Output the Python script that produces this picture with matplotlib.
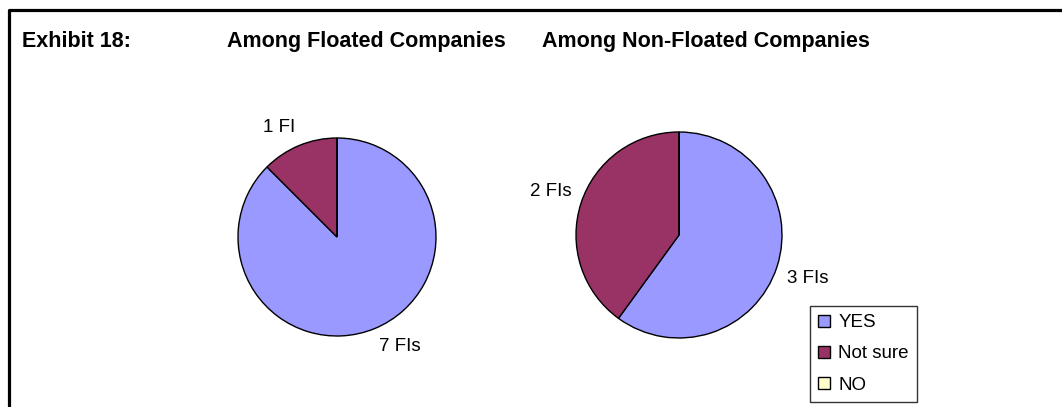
import numpy as np
import matplotlib
matplotlib.use("Agg")
import matplotlib.pyplot as plt
from matplotlib.lines import Line2D

plt.rcParams["font.family"] = ["Liberation Sans", "DejaVu Sans"]

# data
categories = ["YES", "Not sure", "NO"]
floated = [7, 1, 0]
non_floated = [3, 2, 0]
floated_labels = ["7 FIs", "1 FI", ""]
non_floated_labels = ["3 FIs", "2 FIs", ""]
titles = ["Among Floated Companies", "Among Non-Floated Companies"]

colors = ["#9999FF", "#993366", "#FFFFCC"]

W, H = 1062, 407
fig = plt.figure(figsize=(W / 100, H / 100), dpi=100)


def px_axes(cx, cy, r):
    # axes given by pie centre/radius in pixels (y from top)
    return fig.add_axes([(cx - r) / W, 1 - (cy + r) / H, 2 * r / W, 2 * r / H])


def draw_pie(ax, values, labels):
    wedges, _ = ax.pie(values, colors=colors, startangle=90, counterclock=False,
                       wedgeprops=dict(edgecolor="black", linewidth=1.0))
    ax.set_xlim(-1, 1)
    ax.set_ylim(-1, 1)
    for w, lab in zip(wedges, labels):
        if not lab:
            continue
        mid = np.deg2rad((w.theta1 + w.theta2) / 2)
        x, y = 1.1 * np.cos(mid), 1.1 * np.sin(mid)
        ax.text(x, y, lab, fontsize=13.5,
                ha="left" if x > 0 else "right",
                va="bottom" if y > 0 else "top")
    return wedges


ax1 = px_axes(337, 237, 99)
draw_pie(ax1, floated, floated_labels)
ax2 = px_axes(679, 235, 103)
wedges2 = draw_pie(ax2, non_floated, non_floated_labels)

# headings
fig.text(22 / W, 1 - 47 / H, "Exhibit 18:", fontsize=15.5, fontweight="bold",
         va="baseline")
fig.text(227 / W, 1 - 47 / H, titles[0], fontsize=15.5, fontweight="bold",
         va="baseline")
fig.text(542 / W, 1 - 47 / H, titles[1], fontsize=15.5, fontweight="bold",
         va="baseline")

leg = fig.legend(wedges2, categories, loc="upper left",
                 bbox_to_anchor=(810 / W, 1 - 306 / H), borderaxespad=0,
                 fontsize=13.5, frameon=True, fancybox=False, shadow=False,
                 handlelength=0.6, handleheight=0.6, handletextpad=0.45,
                 borderpad=0.45, labelspacing=0.75)
leg.get_frame().set_edgecolor("black")
leg.get_frame().set_linewidth(1.0)

# frame round the exhibit (left and top only)
fig.add_artist(Line2D([9 / W, 9 / W, 1.0], [0.0, 1 - 10 / H, 1 - 10 / H],
                      transform=fig.transFigure, color="black", linewidth=2.3))

fig.savefig("out.png", dpi=100)
